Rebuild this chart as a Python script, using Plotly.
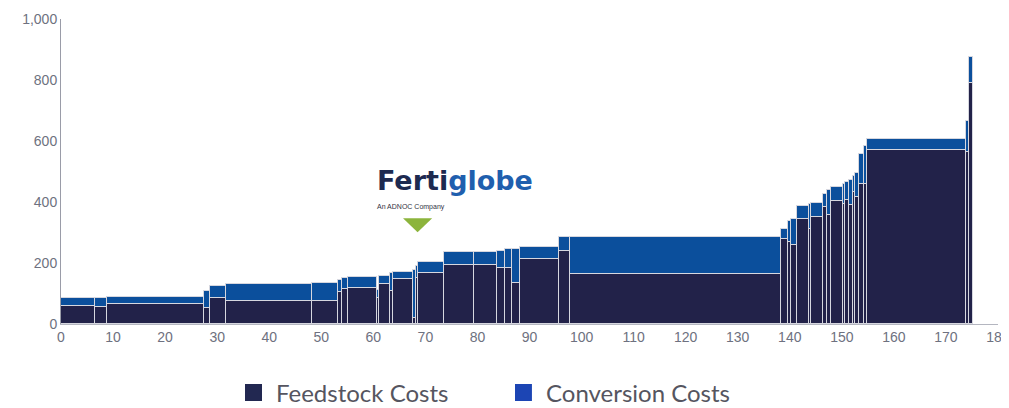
import plotly.graph_objects as go

# Cost curve data: capacity (x, cumulative) and costs (USD/t)
bar_start = [0, 6.5, 8.8, 27.5, 28.6, 31.7, 48.3, 53.2, 54.0, 55.2, 60.7, 61.0, 63.2, 63.7,
             67.7, 68.1, 68.5, 73.6, 79.3, 83.7, 85.2, 86.7, 88.1, 95.6, 97.8, 138.4, 139.7,
             140.2, 141.4, 143.6, 144.1, 146.4, 147.2, 148.0, 150.3, 150.7, 151.3, 152.1,
             152.6, 153.3, 154.2, 154.8, 173.8, 174.5]
bar_end = bar_start[1:] + [175.2]
feedstock = [59, 55, 67, 51, 86, 77, 74, 104, 116, 117, 85, 130, 109, 149,
             19, 150, 166, 194, 195, 185, 185, 135, 214, 239, 164, 278, 270,
             258, 343, 313, 350, 382, 358, 402, 393, 408, 390, 434,
             415, 458, 460, 570, 565, 789]
total_cost = [85, 85, 88, 108, 123, 131, 133, 144, 151, 154, 110, 159, 166, 169,
              177, 190, 202, 235, 237, 238, 247, 247, 252, 285, 284, 311, 337,
              343, 387, 392, 398, 426, 440, 450, 458, 466, 472, 485,
              496, 559, 585, 608, 665, 876]
conversion = [t - f for t, f in zip(total_cost, feedstock)]
widths = [e - s for s, e in zip(bar_start, bar_end)]
centers = [s + w / 2 for s, w in zip(bar_start, widths)]

x_ticks = list(range(0, 181, 10))
y_ticks = list(range(0, 1001, 200))
legend_names = ["Feedstock Costs", "Conversion Costs"]
legend_colors = ["#222851", "#1c45b4"]

FEED_COLOR = "#222249"
CONV_COLOR = "#0b4f9c"
EDGE = "#d6d7df"

fig = go.Figure()
fig.add_trace(go.Bar(x=centers, y=feedstock, width=widths, marker_color=FEED_COLOR,
                     marker_line=dict(color=EDGE, width=1), showlegend=False,
                     name=legend_names[0]))
fig.add_trace(go.Bar(x=centers, y=conversion, width=widths, marker_color=CONV_COLOR,
                     marker_line=dict(color=EDGE, width=1), showlegend=False,
                     name=legend_names[1]))

axis_font = dict(family="Liberation Sans, Arial, sans-serif", size=14, color="#6e7180")

fig.update_layout(
    width=1001, height=400,
    margin=dict(l=53, r=11, t=11, b=84),
    paper_bgcolor="white", plot_bgcolor="white",
    barmode="stack", bargap=0,
    xaxis=dict(range=[0, 180], tickvals=x_ticks, showgrid=False, zeroline=False,
               showline=True, linecolor="#b4b6c0", linewidth=1, ticks="",
               tickfont=axis_font, automargin=False, ticklabeloverflow="allow"),
    yaxis=dict(range=[0, 1000], tickvals=y_ticks, tickformat=",", showgrid=False,
               zeroline=False, showline=True, linecolor="#9a9ca8", linewidth=1,
               ticks="", tickfont=axis_font, automargin=False),
    showlegend=False,
)

# Legend (drawn below the plot)
sw_x0 = [0.1964, 0.4845]
txt_x = [0.2273, 0.5155]
for name, col, sx, tx in zip(legend_names, legend_colors, sw_x0, txt_x):
    fig.add_shape(type="rect", xref="paper", yref="paper",
                  x0=sx, x1=sx + 0.0181, y0=-0.2525, y1=-0.1967,
                  fillcolor=col, line=dict(width=0))
    fig.add_annotation(x=tx, y=-0.2246, xref="paper", yref="paper", showarrow=False,
                       text=name, xanchor="left", yanchor="middle",
                       font=dict(family="Lato, sans-serif", size=24, color="#555560"))

# Fertiglobe logo marker
fig.add_annotation(x=75.6, y=472, xref="x", yref="y", showarrow=False,
                   text="<span style='color:#1d2a50'>Ferti</span><span style='color:#1f5fae'>globe</span>",
                   font=dict(family="DejaVu Sans, sans-serif", size=27, weight="bold"),
                   xanchor="center", yanchor="middle")
fig.add_annotation(x=67.3, y=384, xref="x", yref="y", showarrow=False,
                   text="An ADNOC Company",
                   font=dict(family="Liberation Sans, Arial, sans-serif", size=7, color="#333344"),
                   xanchor="center", yanchor="middle")
fig.add_shape(type="path", xref="x", yref="y",
              path="M 65.7,347 L 71.3,347 L 68.5,301 Z",
              fillcolor="#8cb43c", line=dict(width=0))

fig.write_html("out.html")
